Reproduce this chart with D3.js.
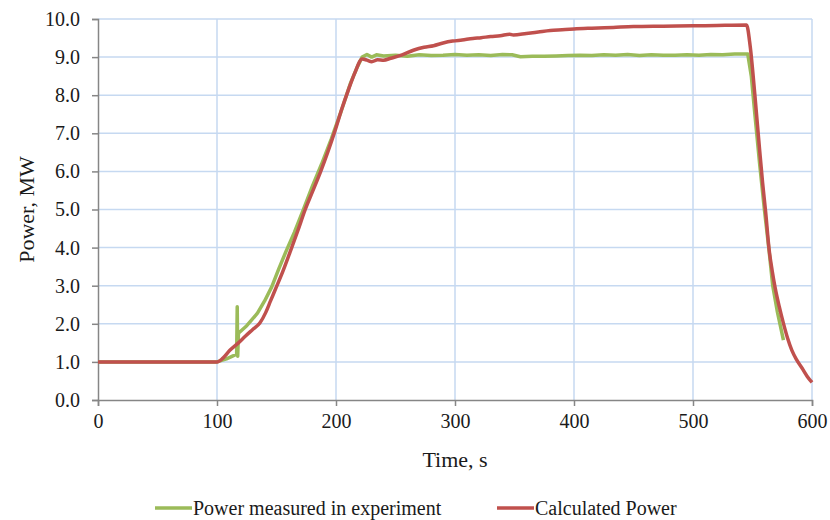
<!DOCTYPE html>
<html>
<head>
<meta charset="utf-8">
<script src="https://cdn.jsdelivr.net/npm/d3@7"></script>
<style>
  body { margin: 0; background: #fff; }
  svg { font-family: "Liberation Serif", "Times New Roman", serif; }
</style>
</head>
<body>
<svg width="830" height="520"></svg>
<script>
// measured power, [time s, MW]
const measured = [
  [0, 1.0], [100, 1.0], [108, 1.08], [113, 1.15], [116.5, 1.2], [117, 2.45], [117.4, 1.15], [118, 1.75],
  [125, 1.95], [134, 2.28], [140, 2.6], [146, 2.97], [152, 3.45], [158, 3.9], [165, 4.4],
  [172, 4.95], [180, 5.6], [188, 6.2], [196, 6.85], [204, 7.55], [212, 8.3], [218, 8.75],
  [222, 9.0], [226, 9.07], [230, 9.0], [234, 9.06], [240, 9.03], [250, 9.05], [260, 9.02],
  [270, 9.06], [280, 9.04], [290, 9.05], [300, 9.07], [310, 9.05], [320, 9.06], [330, 9.04],
  [340, 9.07], [348, 9.06], [355, 9.01], [365, 9.02], [375, 9.02], [385, 9.03], [395, 9.04],
  [405, 9.05], [415, 9.04], [425, 9.06], [435, 9.05], [445, 9.07], [455, 9.04], [465, 9.06],
  [475, 9.05], [485, 9.05], [495, 9.06], [505, 9.05], [515, 9.07], [525, 9.06], [535, 9.08],
  [546, 9.08], [549, 8.5], [552, 7.5], [556, 6.2], [560, 5.0], [564, 3.9], [567, 3.0],
  [571, 2.3], [576, 1.57]
]
// calculated power, [time s, MW]
const calculated = [
  [0, 1.0], [100, 1.0], [105, 1.1], [111, 1.31], [118, 1.5], [124, 1.68], [130, 1.85],
  [136, 2.02], [141, 2.3], [145, 2.6], [149, 2.9], [155, 3.35], [163, 4.02], [168, 4.45],
  [174, 4.99], [180, 5.45], [187, 5.99], [193, 6.5], [199, 7.05], [205, 7.65], [210, 8.1],
  [216, 8.6], [222, 8.95], [226, 8.92], [230, 8.88], [235, 8.93], [240, 8.92], [246, 8.97],
  [255, 9.05], [265, 9.18], [274, 9.26], [282, 9.3], [290, 9.37], [298, 9.42], [306, 9.45],
  [315, 9.49], [322, 9.51], [330, 9.54], [338, 9.56], [346, 9.6], [349, 9.58], [360, 9.62],
  [370, 9.66], [380, 9.7], [390, 9.72], [400, 9.74], [415, 9.76], [433, 9.78], [450, 9.8],
  [475, 9.81], [500, 9.82], [520, 9.83], [545, 9.84], [548, 9.3], [552, 8.0], [556, 6.56],
  [558.5, 5.7], [561, 4.95], [564, 3.94], [566.5, 3.4], [569, 2.95], [572.5, 2.45],
  [576, 2.01], [579.5, 1.62], [583, 1.31], [587, 1.06], [591.6, 0.84], [596, 0.62], [600, 0.46]
]
const xTicks = [0, 100, 200, 300, 400, 500, 600]
const yTicks = [0, 1, 2, 3, 4, 5, 6, 7, 8, 9, 10]
const seriesNames = ["Power measured in experiment", "Calculated Power"]
const seriesColors = ["#9bbb59", "#c0504d"]

const svg = d3.select("svg")
const margin = { left: 98, top: 19, right: 18, bottom: 120 }
const width = 830 - margin.left - margin.right
const height = 520 - margin.top - margin.bottom

const x = d3.scaleLinear().domain([0, 600]).range([0, width])
const y = d3.scaleLinear().domain([0, 10]).range([height, 0])

const g = svg.append("g").attr("transform", `translate(${margin.left},${margin.top})`)

// grid
g.append("g").selectAll("line")
  .data(yTicks.filter(d => d > 0))
  .enter().append("line")
  .attr("x1", 0).attr("x2", width)
  .attr("y1", d => y(d)).attr("y2", d => y(d))
  .attr("stroke", "#c6d9f1").attr("stroke-width", 1.5)
g.append("g").selectAll("line")
  .data(xTicks.filter(d => d > 0))
  .enter().append("line")
  .attr("y1", 0).attr("y2", height)
  .attr("x1", d => x(d)).attr("x2", d => x(d))
  .attr("stroke", "#c6d9f1").attr("stroke-width", 1.5)

// axes
const xAxis = g.append("g")
  .attr("transform", `translate(0,${height})`)
  .call(d3.axisBottom(x).tickValues(xTicks).tickSize(6).tickPadding(8).tickFormat(d3.format("d")))
const yAxis = g.append("g")
  .call(d3.axisLeft(y).tickValues(yTicks).tickSize(6).tickPadding(12).tickFormat(d3.format(".1f")))
for (const ax of [xAxis, yAxis]) {
  ax.select(".domain").attr("stroke", "#868686").attr("stroke-width", 1.5)
  ax.selectAll(".tick line").attr("stroke", "#868686").attr("stroke-width", 1.5)
  ax.selectAll("text").attr("font-family", "Liberation Serif").attr("font-size", 20).attr("fill", "#1a1a1a")
}

// lines
const line = d3.line().x(d => x(d[0])).y(d => y(d[1]))
g.append("path").datum(measured)
  .attr("fill", "none").attr("stroke", seriesColors[0]).attr("stroke-width", 3.5)
  .attr("stroke-linejoin", "round").attr("d", line)
g.append("path").datum(calculated)
  .attr("fill", "none").attr("stroke", seriesColors[1]).attr("stroke-width", 3.5)
  .attr("stroke-linejoin", "round").attr("d", line.curve(d3.curveMonotoneX))

// axis titles
svg.append("text")
  .attr("x", margin.left + width / 2).attr("y", 467)
  .attr("text-anchor", "middle").attr("font-size", 22).attr("fill", "#1a1a1a")
  .text("Time, s")
svg.append("text")
  .attr("transform", `translate(34,${margin.top + height / 2}) rotate(-90)`)
  .attr("text-anchor", "middle").attr("font-size", 22).attr("fill", "#1a1a1a")
  .text("Power, MW")

// legend
const legendX = [155, 497]
const legend = svg.append("g").selectAll("g")
  .data(seriesNames)
  .enter().append("g")
  .attr("transform", (d, i) => `translate(${legendX[i]},508)`)
legend.append("line")
  .attr("x1", 0).attr("x2", 37)
  .attr("stroke", (d, i) => seriesColors[i]).attr("stroke-width", 3.5)
legend.append("text")
  .attr("x", 38).attr("dy", "0.35em")
  .attr("font-size", 20).attr("fill", "#1a1a1a")
  .text(d => d)
</script>
</body>
</html>
